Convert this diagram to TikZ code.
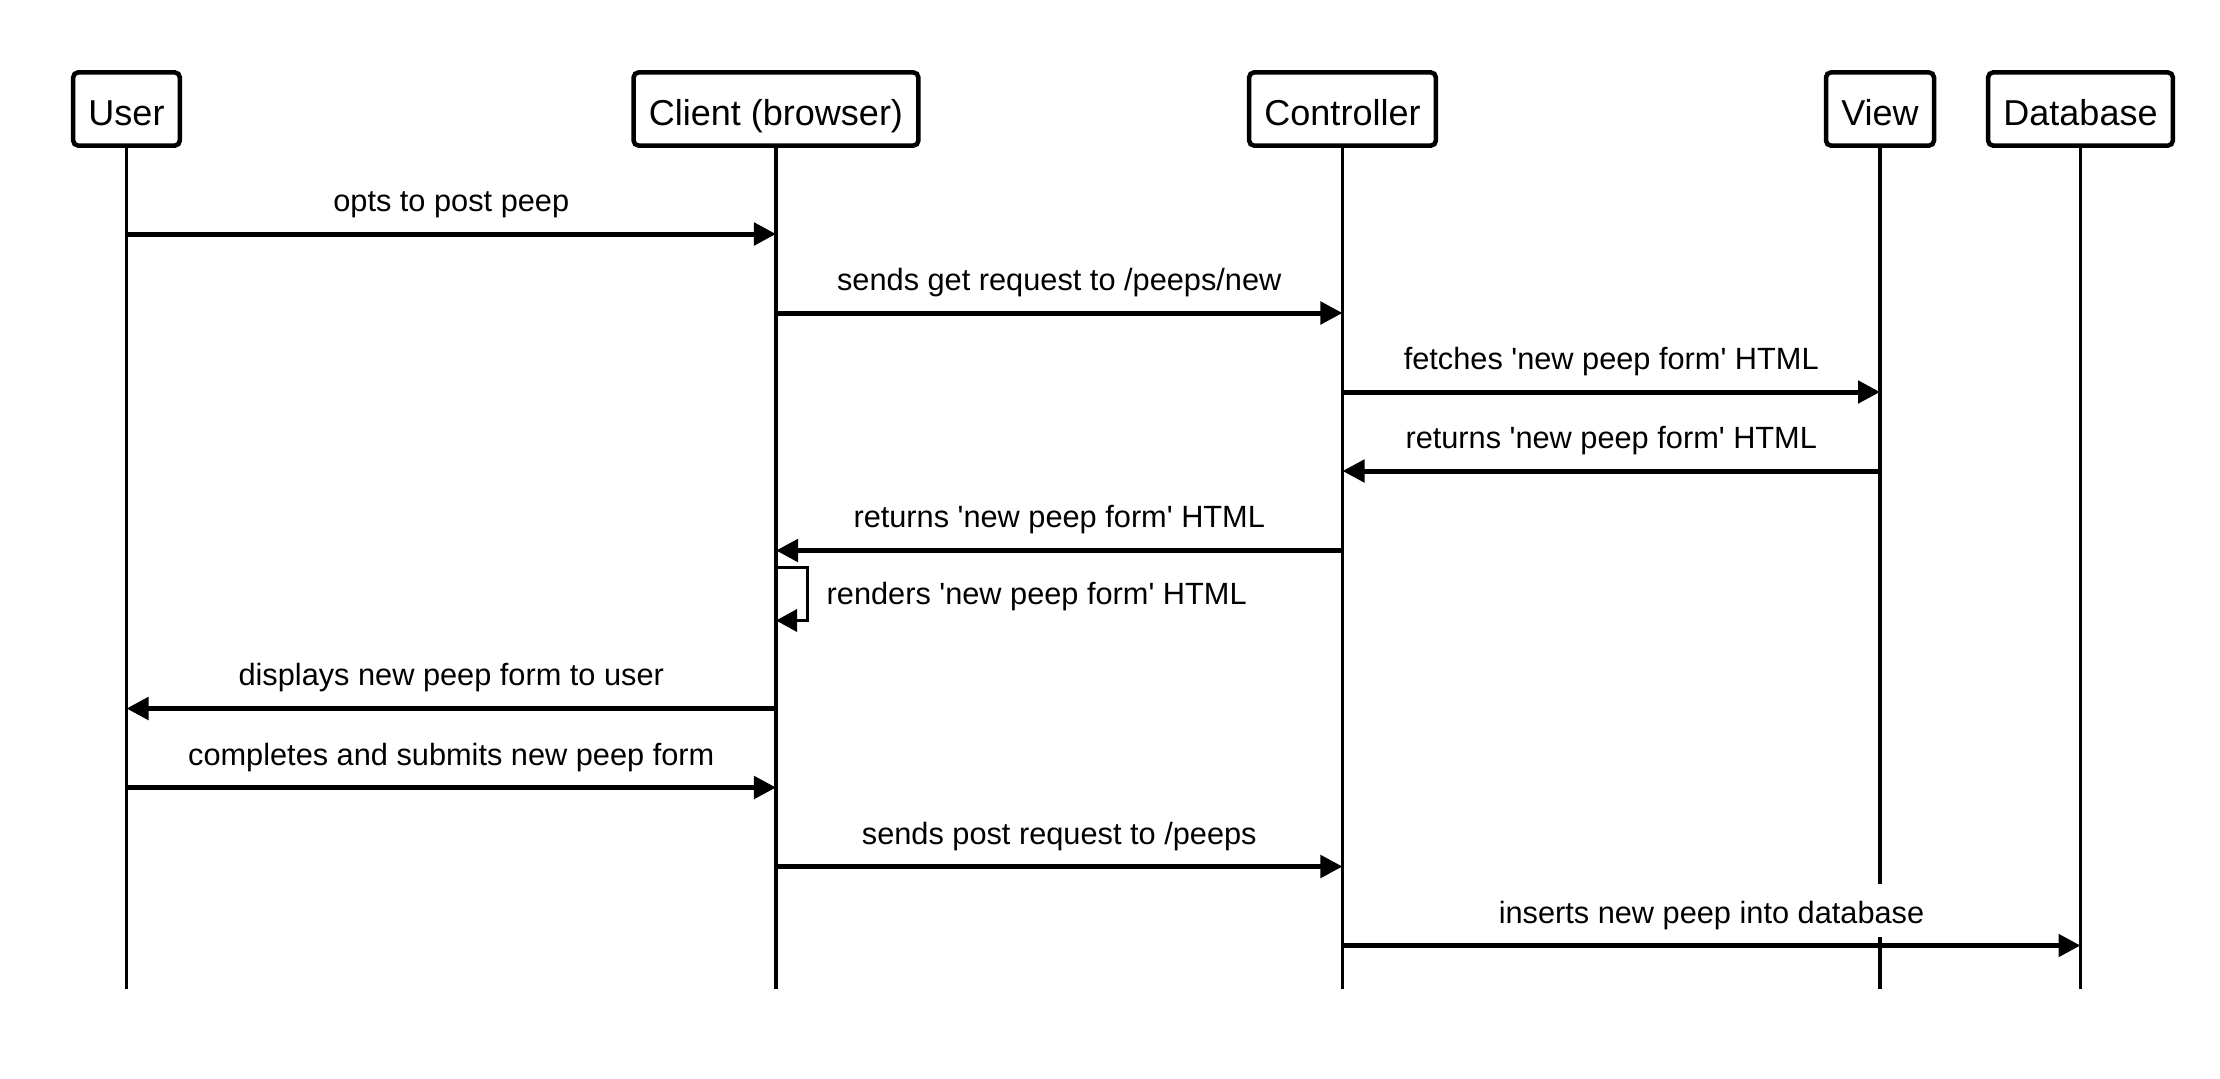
\documentclass[tikz,border=0pt]{standalone}
\usepackage{fontspec}
\newfontfamily\labfont{Liberation Sans}
\usetikzlibrary{arrows.meta}
\begin{document}
\begin{tikzpicture}[x=0.01cm,y=-0.01cm,
  actor/.style={draw=black, line width=0.045cm, rounded corners=0.05cm, fill=white,
    minimum height=0.732cm, inner xsep=0.153cm, inner ysep=0pt,
    text height=0.32cm, text depth=0pt, font=\labfont\fontsize{10.24pt}{12pt}\selectfont},
  life/.style={line width=0.035cm},
  msg/.style={line width=0.05cm, -{Triangle[length=0.22cm,width=0.22cm]}},
  lbl/.style={font=\labfont\fontsize{8.74pt}{10pt}\selectfont, fill=white,
    inner xsep=0.03cm, inner ysep=0.03cm, text height=0.36cm, text depth=0.11cm,
    anchor=base, midway, yshift=0.225cm},
  loopline/.style={line width=0.035cm, -{Triangle[length=0.21cm,width=0.22cm]}}
]
\useasboundingbox[fill=white] (0,0) rectangle (2220,1078);

% actors
\node[actor] (user) at (126.5,109) {User};
\node[actor] (client) at (776,109) {Client (browser)};
\node[actor] (ctrl) at (1342.5,109) {Controller};
\node[actor] (view) at (1880,109) {View};
\node[actor] (db) at (2080.5,109) {Database};

% lifeline ends
\coordinate (userEnd) at (126.5,989);
\coordinate (clientEnd) at (776,989);
\coordinate (ctrlEnd) at (1342.5,989);
\coordinate (viewEnd) at (1880,989);
\coordinate (dbEnd) at (2080.5,989);

\draw[life] (user.south) -- (userEnd);
\draw[life] (client.south) -- (clientEnd);
\draw[life] (ctrl.south) -- (ctrlEnd);
\draw[life] (view.south) -- (viewEnd);
\draw[life] (db.south) -- (dbEnd);

% messages
\draw[msg] (user |- 0,234) -- node[lbl] (m1) {opts to post peep} (client |- 0,234);
\draw[msg] (client |- 0,313) -- node[lbl] (m2) {sends get request to /peeps/new} (ctrl |- 0,313);
\draw[msg] (ctrl |- 0,392) -- node[lbl] (m3) {fetches 'new peep form' HTML} (view |- 0,392);
\draw[msg] (view |- 0,471) -- node[lbl] (m4) {returns 'new peep form' HTML} (ctrl |- 0,471);
\draw[msg] (ctrl |- 0,550.5) -- node[lbl] (m5) {returns 'new peep form' HTML} (client |- 0,550.5);

% self message
\coordinate (loopA) at (807.5,567.5);
\coordinate (loopB) at (807.5,620.5);
\draw[loopline] (client |- loopA) -- (loopA) -- (loopB) -- (client |- loopB);
\node[anchor=base west, inner sep=0pt, font=\labfont\fontsize{8.74pt}{10pt}\selectfont] (m6) at (826,604) {renders 'new peep form' HTML};

\draw[msg] (client |- 0,708.5) -- node[lbl] (m7) {displays new peep form to user} (user |- 0,708.5);
\draw[msg] (user |- 0,787.5) -- node[lbl] (m8) {completes and submits new peep form} (client |- 0,787.5);
\draw[msg] (client |- 0,866.5) -- node[lbl] (m9) {sends post request to /peeps} (ctrl |- 0,866.5);
\draw[msg] (ctrl |- 0,945.5) -- node[lbl] (m10) {inserts new peep into database} (db |- 0,945.5);
\end{tikzpicture}
\end{document}
